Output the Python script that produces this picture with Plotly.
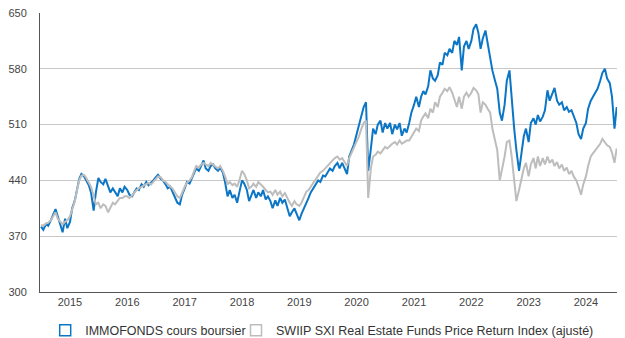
import plotly.graph_objects as go

# Semi-monthly observation dates (1st and 15th), Jul 2014 - Jul 2024
months = [(2014, m) for m in range(7, 13)] + [(y, m) for y in range(2015, 2024) for m in range(1, 13)] + [(2024, m) for m in range(1, 8)]
dates = [f"{y}-{m:02d}-{d:02d}" for (y, m) in months for d in (1, 15)]

immofonds = [
    # 2014 (Jul-Dec)
    382, 378, 385, 383, 390, 396, 404, 395, 385, 375, 392, 380,
    # 2015
    388, 405, 415, 430, 442, 448, 445, 440, 434, 425, 402, 425, 443, 438, 435, 442, 432, 425, 430, 426, 420, 430, 425, 432,
    # 2016
    428, 422, 420, 425, 430, 428, 435, 432, 438, 434, 437, 440, 444, 447, 442, 440, 435, 430, 432, 426, 418, 412, 410, 422,
    # 2017
    430, 438, 436, 442, 450, 455, 452, 458, 465, 455, 452, 458, 460, 455, 452, 456, 450, 438, 420, 428, 418, 422, 412, 425,
    # 2018
    440, 436, 428, 414, 420, 428, 418, 425, 420, 428, 416, 420, 414, 405, 415, 408, 418, 412, 416, 405, 395, 400, 405, 398,
    # 2019
    390, 398, 405, 412, 418, 425, 430, 435, 440, 438, 446, 445, 450, 455, 452, 458, 462, 455, 462, 456, 448, 470, 478, 485,
    # 2020
    498, 508, 520, 532, 538, 452, 480, 505, 498, 510, 515, 500, 512, 505, 512, 498, 510, 504, 512, 496, 505, 500, 512, 525,
    # 2021
    535, 545, 532, 545, 552, 548, 558, 578, 568, 565, 572, 588, 585, 600, 597, 605, 600, 615, 610, 620, 578, 608, 615, 605,
    # 2022
    615, 630, 636, 625, 605, 618, 628, 612, 595, 578, 565, 555, 525, 515, 535, 565, 578, 540, 505, 478, 452, 472, 495, 505,
    # 2023
    488, 512, 518, 510, 522, 514, 520, 528, 553, 540, 548, 556, 540, 535, 538, 528, 532, 526, 528, 520, 512, 498, 492, 505,
    # 2024 (Jan-Jul)
    512, 530, 540, 545, 550, 555, 565, 575, 580, 568, 562, 545, 505, 532,
]

swiip_sxi = [
    # 2014 (Jul-Dec)
    384, 383, 386, 387, 390, 394, 400, 392, 388, 385, 388, 390,
    # 2015
    395, 405, 414, 428, 440, 446, 447, 443, 437, 432, 420, 410, 412, 405, 410, 408, 400, 405, 412, 410, 415, 418, 418, 420,
    # 2016
    420, 418, 421, 425, 428, 430, 432, 434, 436, 437, 435, 438, 442, 445, 444, 440, 438, 435, 432, 430, 425, 420, 418, 425,
    # 2017
    432, 437, 440, 444, 452, 458, 456, 460, 462, 460, 458, 462, 460, 458, 455, 458, 452, 445, 435, 438, 434, 436, 432, 440,
    # 2018
    452, 448, 440, 430, 432, 436, 432, 438, 434, 432, 428, 425, 426, 422, 428, 422, 426, 420, 424, 418, 412, 408, 414, 410,
    # 2019
    408, 412, 420, 426, 428, 432, 438, 442, 446, 450, 452, 455, 458, 462, 465, 468, 470, 466, 468, 464, 458, 468, 475, 480,
    # 2020
    488, 495, 505, 512, 515, 418, 455, 470, 472, 476, 474, 478, 482, 480, 484, 486, 488, 485, 490, 486, 488, 490, 490, 495,
    # 2021
    500, 505, 502, 515, 520, 524, 518, 530, 525, 538, 532, 545, 550, 555, 552, 557, 550, 540, 532, 545, 530, 545, 550, 545,
    # 2022
    550, 556, 553, 548, 525, 538, 535, 530, 525, 505, 490, 478, 440, 452, 470, 488, 490, 470, 435, 414, 428, 440, 455, 462,
    # 2023
    445, 460, 468, 455, 470, 458, 468, 460, 470, 462, 466, 458, 463, 455, 460, 452, 456, 448, 452, 445, 440, 432, 422, 435,
    # 2024 (Jan-Jul)
    445, 458, 470, 474, 478, 482, 486, 492, 488, 484, 482, 475, 462, 480,
]

names = ["IMMOFONDS cours boursier", "SWIIP SXI Real Estate Funds Price Return Index (ajusté)"]
y_ticks = [300, 370, 440, 510, 580, 650]

BLUE = "#0c76c6"
GRAY = "#bdbdbd"
FONT = "Liberation Sans, Arial, sans-serif"

fig = go.Figure()
fig.add_trace(go.Scatter(x=dates, y=immofonds, mode="lines", line=dict(color=BLUE, width=2),
                         showlegend=False, name=names[0]))
fig.add_trace(go.Scatter(x=dates, y=swiip_sxi, mode="lines", line=dict(color=GRAY, width=2),
                         showlegend=False, name=names[1]))
# legend entries with square outline icons
fig.add_trace(go.Scatter(x=[None], y=[None], mode="markers", name=names[0], legend="legend",
                         marker=dict(symbol="square-open", size=11, color=BLUE, line=dict(width=1.5))))
fig.add_trace(go.Scatter(x=[None], y=[None], mode="markers", name=names[1], legend="legend2",
                         marker=dict(symbol="square-open", size=11, color=GRAY, line=dict(width=1.5))))

leg_common = dict(orientation="h", yanchor="middle", y=-0.138, xanchor="left",
                  font=dict(family=FONT, size=12.5, color="#333"), itemwidth=30,
                  bgcolor="rgba(0,0,0,0)", borderwidth=0)

fig.update_layout(
    width=625, height=338,
    margin=dict(l=40, r=8, t=13, b=46, autoexpand=False),
    paper_bgcolor="white", plot_bgcolor="white",
    font=dict(family=FONT, size=11, color="#444"),
    showlegend=True,
    legend=dict(x=0.009, **leg_common),
    legend2=dict(x=0.3397, **leg_common),
)
fig.update_xaxes(
    type="date", range=["2014-06-24", "2024-07-17"],
    dtick="M12", tick0="2015-01-01", tickformat="%Y",
    showgrid=False, showline=True, linecolor="#555", linewidth=1,
    ticks="", tickfont=dict(size=11, color="#444"), zeroline=False,
)
fig.update_yaxes(
    range=[300, 650], tickvals=y_ticks, ticktext=[str(v) for v in y_ticks],
    showgrid=True, gridcolor="#c8c8c8", gridwidth=1,
    showline=True, linecolor="#555", linewidth=1,
    ticks="", ticklabelstandoff=10, tickfont=dict(size=11, color="#444"), zeroline=False,
)

fig.write_html("out.html")
